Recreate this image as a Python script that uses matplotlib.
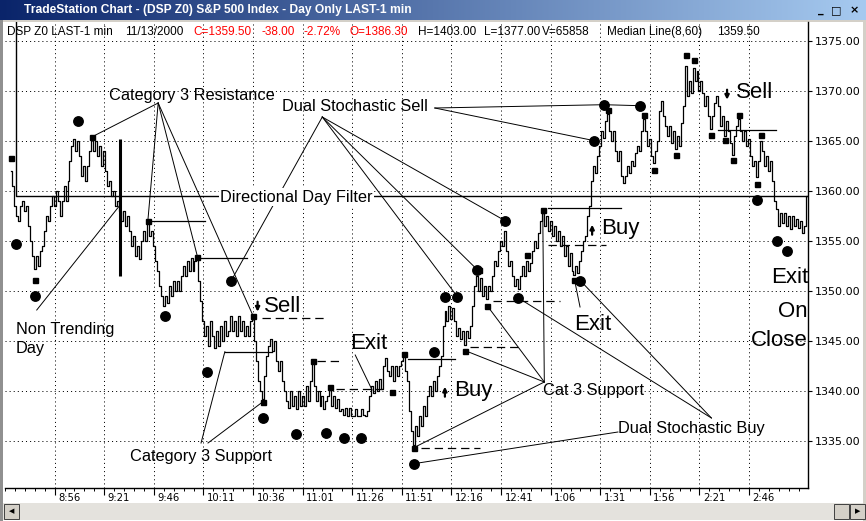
import numpy as np
import matplotlib
matplotlib.use("Agg")
import matplotlib.pyplot as plt
from matplotlib.patches import Rectangle
from matplotlib import transforms

plt.rcParams['lines.scale_dashes'] = False

# ---------------- data ----------------
first_minute = 4          # minutes after 8:30 of first plotted bar
closes = [
    1362.0, 1360.5, 1358.5, 1357.5, 1357.0, 1358.5, 1359.0, 1358.0, 1358.5, 1356.5,
    1355.0, 1353.5, 1352.2, 1353.5, 1352.5, 1354.0, 1354.5, 1356.0, 1357.5, 1357.0,
    1358.5, 1359.5, 1358.5, 1360.0, 1359.0, 1357.5, 1359.0, 1360.5, 1359.0, 1361.0,
    1363.0, 1364.5, 1365.2, 1364.0, 1365.0, 1363.5, 1361.5, 1362.5, 1361.0, 1362.5,
    1364.0, 1365.3, 1364.0, 1365.0, 1363.5, 1364.5, 1362.5, 1364.0, 1362.0, 1360.5,
    1361.0, 1359.5, 1360.0, 1358.5, 1359.0, 1358.0, 1357.0, 1358.0, 1356.5, 1357.5,
    1356.0, 1354.5, 1355.5, 1353.5, 1354.5, 1353.2, 1355.0, 1356.0, 1355.0, 1356.8,
    1355.5, 1356.0, 1354.5, 1353.0, 1352.0, 1350.5, 1349.5, 1348.5, 1349.5, 1348.8,
    1350.5, 1349.5, 1351.0, 1350.0, 1351.0, 1350.0, 1351.5, 1352.5, 1351.5, 1353.0,
    1352.0, 1353.3, 1352.0, 1353.0, 1353.4, 1351.0, 1349.0, 1347.0, 1345.5, 1346.5,
    1344.5, 1347.0, 1345.5, 1344.3, 1346.0, 1344.5, 1346.5, 1345.0, 1347.0, 1345.5,
    1346.0, 1347.5, 1346.0, 1347.0, 1345.5, 1347.5, 1346.0, 1347.0, 1345.5, 1346.5,
    1345.5, 1347.0, 1347.4, 1345.0, 1343.0, 1341.0, 1340.0, 1339.2, 1341.5, 1343.5,
    1344.5, 1345.2, 1344.0, 1345.0, 1343.0, 1342.0, 1343.0, 1341.0, 1340.0, 1339.0,
    1338.3, 1340.0, 1338.5, 1339.5, 1338.2, 1340.0, 1338.5, 1339.5, 1338.5, 1340.5,
    1339.0, 1341.0, 1343.0, 1340.5, 1339.0, 1340.0, 1338.5, 1339.5, 1338.2, 1339.0,
    1339.5, 1340.3, 1338.5, 1339.5, 1338.3, 1339.2, 1338.0, 1338.2, 1337.6, 1338.3,
    1337.5, 1338.3, 1337.5, 1337.5, 1338.2, 1337.5, 1337.5, 1338.2, 1337.6, 1337.5,
    1338.0, 1339.5, 1340.5, 1339.8, 1341.0, 1340.0, 1341.2, 1340.2, 1342.5, 1343.3,
    1342.0, 1341.5, 1342.5, 1341.0, 1342.5, 1341.5, 1342.5, 1343.0, 1343.5, 1342.0,
    1341.0, 1338.0, 1336.0, 1334.6, 1336.5, 1335.5, 1337.5, 1336.5, 1338.5, 1337.5,
    1339.5, 1340.5, 1339.5, 1341.0, 1340.0, 1341.5, 1342.5, 1343.5, 1346.5, 1348.0,
    1347.0, 1348.5, 1347.2, 1348.3, 1347.0, 1345.5, 1346.3, 1345.2, 1346.0, 1344.6,
    1346.0, 1345.3, 1346.5, 1348.5, 1350.5, 1351.5, 1350.0, 1351.3, 1349.5, 1350.5,
    1349.2, 1350.5, 1350.0, 1351.5, 1353.0, 1352.5, 1354.0, 1355.0, 1354.5, 1356.0,
    1354.0, 1352.5, 1353.0, 1351.5, 1350.5, 1351.2, 1350.2, 1351.5, 1352.5, 1351.5,
    1353.0, 1352.0, 1352.8, 1354.0, 1355.0, 1354.3, 1355.8, 1357.0, 1357.8, 1356.5,
    1357.5, 1356.0, 1357.0, 1355.5, 1356.5, 1355.0, 1356.0, 1354.5, 1355.5, 1353.5,
    1354.5, 1352.5, 1353.8, 1352.0, 1351.6, 1352.5, 1351.8, 1353.0, 1354.0, 1355.0,
    1355.5, 1357.5, 1358.5, 1361.0, 1362.5, 1361.8, 1363.5, 1364.5, 1366.0, 1365.3,
    1367.0, 1367.7, 1366.0, 1365.0, 1366.0, 1364.0, 1363.0, 1364.0, 1361.5, 1360.8,
    1361.5, 1362.5, 1361.8, 1363.0, 1362.5, 1363.8, 1364.5, 1364.0, 1366.0, 1367.2,
    1366.0, 1364.5, 1365.2, 1363.5, 1362.8, 1364.0, 1365.0, 1368.0, 1369.0, 1367.5,
    1366.5, 1365.5, 1366.5, 1364.8, 1366.0, 1364.2, 1365.5, 1364.5, 1366.8, 1368.5,
    1372.5, 1369.5, 1371.0, 1369.8, 1372.3, 1371.0, 1372.0, 1370.0, 1371.0, 1369.8,
    1368.5, 1369.5, 1367.5, 1366.2, 1367.5, 1368.8, 1369.5, 1368.5, 1366.5, 1367.5,
    1365.5, 1367.0, 1366.0, 1364.8, 1363.6, 1365.5, 1366.5, 1367.2, 1366.0, 1365.0,
    1366.0, 1364.5, 1365.2, 1363.5, 1362.5, 1363.0, 1361.4, 1363.0, 1365.0, 1364.0,
    1362.5, 1363.5, 1362.0, 1363.0, 1361.0, 1359.0, 1358.2, 1356.5, 1357.8, 1356.8,
    1357.8, 1356.5, 1357.5, 1356.2, 1357.5, 1356.5, 1357.2, 1356.3, 1357.0, 1355.8,
    1356.5, 1359.5,
]

time_labels = ['8:56', '9:21', '9:46', '10:11', '10:36', '11:01', '11:26', '11:51',
               '12:16', '12:41', '1:06', '1:31', '1:56', '2:21', '2:46']
price_ticks = [1335, 1340, 1345, 1350, 1355, 1360, 1365, 1370, 1375]

median_minutes = [6.5, 6.5, 405]
median_values = [1386.3, 1359.5, 1359.5]

nontrend_minute = 59
nontrend_range = [1351.5, 1365.2]

square_minutes = [3.8, 16, 45, 73, 98, 126, 131, 156, 165, 196, 202, 207, 233, 240, 244,
                  264, 272, 288, 305, 323, 328, 339, 344, 348, 357, 364, 368, 371, 380, 382]
square_prices = [1363.3, 1351.1, 1365.4, 1357.0, 1353.4, 1347.5, 1338.9, 1343.0, 1340.4,
                 1339.9, 1343.7, 1334.3, 1344.0, 1352.1, 1348.5, 1353.6, 1358.1, 1351.1,
                 1368.1, 1367.6, 1362.1, 1363.6, 1373.6, 1373.1, 1365.6, 1365.1, 1363.1,
                 1367.6, 1360.7, 1365.6]

dot_minutes = [6.5, 16, 38, 81.5, 103, 115, 131, 147.5, 163, 172, 180.5, 207, 217, 222.5,
               229, 239, 253, 259.5, 291, 298, 303, 321, 380, 390, 395]
dot_prices = [1354.7, 1349.5, 1367.0, 1347.5, 1341.9, 1351.0, 1337.3, 1335.7, 1335.8,
              1335.3, 1335.3, 1332.7, 1343.9, 1349.4, 1349.4, 1352.1, 1357.0, 1349.3,
              1351.0, 1365.0, 1368.6, 1368.5, 1359.1, 1355.0, 1354.0]

solid_start = [75, 100, 111.8, 204, 274.5, 360.5]
solid_end = [102, 123, 135.5, 228, 311.5, 389.5]
solid_price = [1357.0, 1353.3, 1343.9, 1343.2, 1358.3, 1366.1]

dashed_start = [130.5, 158, 168, 210.5, 235.5, 247, 274.5]
dashed_end = [163.5, 170.5, 191.5, 240.5, 259.5, 280.5, 304]
dashed_price = [1347.3, 1343.0, 1340.2, 1334.3, 1344.4, 1349.0, 1354.6]

header_text = ['DSP Z0 LAST-1 min', '11/13/2000', 'C=1359.50', '-38.00', '-2.72%',
               'O=1386.30', 'H=1403.00', 'L=1377.00', 'V=65858', 'Median Line(8,60)',
               '1359.50']
header_color = ['black', 'black', 'red', 'red', 'red', 'red', 'black', 'black', 'black',
                'black', 'black']

# ---------------- figure ----------------
W, H = 866, 521
fig = plt.figure(figsize=(W / 100, H / 100), dpi=100)
fig.patch.set_facecolor('white')
renderer = fig.canvas.get_renderer()

SANS = ['Liberation Sans', 'DejaVu Sans']
UI = ['DejaVu Sans']


def fit_fig_text(x0, x1, ycen, txt, color='black', base=8.0, **kw):
    """figure text placed in pixel coords, font size scaled to span x0..x1"""
    t = fig.text(x0 / W, 1 - ycen / H, txt, color=color, fontsize=base, ha='left',
                 va='center', **kw)
    w = t.get_window_extent(renderer).width
    t.set_fontsize(base * (x1 - x0) / w)
    return t


# chrome overlay in pixel coordinates
ov = fig.add_axes([0, 0, 1, 1], zorder=-5)
ov.set_xlim(0, W)
ov.set_ylim(H, 0)
ov.axis('off')

# title bar gradient
grad_ax = fig.add_axes([0, 1 - 20 / H, 1, 20 / H], zorder=-4)
c0 = np.array([0x0A, 0x24, 0x6A]) / 255.0
c1 = np.array([0xA6, 0xCA, 0xF0]) / 255.0
t = np.linspace(0, 1, 400)[None, :, None]
grad = c0 + (c1 - c0) * t
grad_ax.imshow(grad, aspect='auto', extent=[0, 1, 0, 1])
grad_ax.axis('off')
fit_fig_text(24, 410, 10.5, 'TradeStation Chart - (DSP Z0) S&P 500 Index - Day Only LAST-1 min',
             color='white', base=8.5, fontweight='bold', family=['Liberation Sans', 'DejaVu Sans'])
# icon
ov.add_patch(Rectangle((3, 3), 14, 14, facecolor='#c8c8c8', edgecolor='#404040', lw=0.6, zorder=2))
ov.add_patch(Rectangle((6, 6), 8, 8, facecolor='white', edgecolor='#0A246A', lw=0.6, zorder=3))
# title-bar separation
ov.add_patch(Rectangle((0, 20), W, 2, facecolor='#d4d0c8', edgecolor='none'))
# window buttons
for bx, glyph in [(813, '_'), (829, '□'), (847, '×')]:
    ov.add_patch(Rectangle((bx, 3), 15, 14, facecolor='#d4d0c8', edgecolor='#404040', lw=0.7, zorder=2))
    fig.text((bx + 7.5) / W, 1 - 10 / H, glyph, fontsize=8, fontweight='bold', ha='center',
             va='center', family=UI, color='black')
# left & right borders
ov.add_patch(Rectangle((0, 20), 3, H - 20, facecolor='#909090', edgecolor='none'))
ov.add_patch(Rectangle((863, 20), 3, H - 20, facecolor='#d4d0c8', edgecolor='none'))
# scrollbar
ov.add_patch(Rectangle((3, 503), 860, 17, facecolor='#e4e2dd', edgecolor='none'))
for bx in (4, 834, 850):
    ov.add_patch(Rectangle((bx, 504), 15, 15, facecolor='#d4d0c8', edgecolor='#404040', lw=0.7, zorder=2))
fig.text(11.5 / W, 1 - 511.5 / H, '◀', fontsize=5, ha='center', va='center', family=UI)
fig.text(857.5 / W, 1 - 511.5 / H, '▶', fontsize=5, ha='center', va='center', family=UI)

# ---------------- main chart ----------------
ax = fig.add_axes([5 / W, 1 - 488 / H, 803 / W, 466 / H])
ax.set_facecolor('white')


def x_to_min(px):
    return 26 + (px - 50.9) / 1.994


ax.set_xlim(x_to_min(5), x_to_min(808))
ax.set_ylim(1330.27, 1376.87)

minutes = np.arange(first_minute, first_minute + len(closes))
ax.step(minutes, closes, where='mid', color='black', lw=0.9, zorder=4)

ax.plot(median_minutes, median_values, color='black', lw=1.0, zorder=3)
ax.vlines(nontrend_minute, nontrend_range[0], nontrend_range[1], color='black', lw=2.2, zorder=4)

for s, e, p in zip(solid_start, solid_end, solid_price):
    ax.plot([s, e], [p, p], color='black', lw=0.9, zorder=3)
for s, e, p in zip(dashed_start, dashed_end, dashed_price):
    ax.plot([s, e], [p, p], color='black', lw=0.9, linestyle=(0, (6, 3.5)), zorder=3)

squares = dict(zip(square_minutes, square_prices))
dots = dict(zip(dot_minutes, dot_prices))


def connect(anchor, target, lw=0.7):
    ax.plot([anchor[0], target[0]], [anchor[1], target[1]], color='black', lw=lw, zorder=3)


# connector lines: text anchors -> marks
a = (78.2, 1368.77)
for m in (45, 73, 98, 126):
    connect(a, (m, squares[m]))
a = (160.9, 1367.37)
for m in (115, 229, 239, 253):
    connect(a, (m, dots[m]))
a = (x_to_min(433), 1368.27)
for m in (303, 298):
    connect(a, (m, dots[m]))
connect((303, dots[303]), (321, dots[321]))
connect((17.0, 1348.07), (nontrend_minute, 1358.57))
connect((177.5, 1343.57), (186.0, 1340.07))
connect((290.8, 1348.37), (288, squares[288]))
a = (272.8, 1340.87)
for m in (207, 233, 244, 272):
    connect(a, (m, squares[m]))
connect((309.9, 1335.87), (207, dots[207]))
for m in (259.5, 291):
    connect((357.0, 1337.27), (m, dots[m]))
connect((99.8, 1334.77), (solid_start[2], solid_price[2]))
connect((103.3, 1334.77), (131, squares[131]))

ax.plot(square_minutes, square_prices, linestyle='none', marker='s', ms=3.6,
        color='black', zorder=5, clip_on=True)
ax.plot(dot_minutes, dot_prices, linestyle='none', marker='o', ms=6.8,
        color='black', zorder=5)

# annotation texts
small = 11.8
big = 16


def label(txt, m, p, size, ha='left', bbox=None, **kw):
    ax.text(m, p, txt, fontsize=size, family=SANS, ha=ha, va='baseline', zorder=6,
            bbox=bbox, **kw)


label('Category 3 Resistance', 53.6, 1369.07, small)
label('Dual Stochastic Sell', 140.4, 1367.97, small)
label('Directional Day Filter', 109.3, 1358.9, small,
      bbox=dict(facecolor='white', edgecolor='none', pad=1.0))
label('Non Trending', 6.4, 1345.67, small)
label('Day', 6.4, 1343.77, small)
label('Sell', 131.7, 1347.9, big)
label('Exit', 175.0, 1344.17, big)
label('Buy', 227.5, 1339.42, big)
label('Buy', 301.3, 1355.64, big)
label('Exit', 287.7, 1346.07, big)
label('Sell', 369.6, 1369.24, big)
label('Exit', x_to_min(808), 1350.74, big, ha='right')
label('On', x_to_min(808), 1347.34, big, ha='right')
label('Close', x_to_min(808), 1344.47, big, ha='right')
label('Cat 3 Support', 272.3, 1339.57, small)
label('Dual Stochastic Buy', 310.0, 1335.74, small)
label('Category 3 Support', 64.2, 1332.97, small)

# small bold arrows next to Buy / Sell  (minute, tail price, head price)
for m, p_tail, p_head in [(128.3, 1348.9, 1347.9), (222.7, 1339.4, 1340.4),
                          (296.9, 1355.6, 1356.6), (364.9, 1370.1, 1369.1)]:
    ax.annotate('', xy=(m, p_head), xytext=(m, p_tail),
                arrowprops=dict(arrowstyle='-|>', lw=1.6, color='black',
                                mutation_scale=6, shrinkA=0, shrinkB=0), zorder=6)

# axes styling
for side in ('top', 'left'):
    ax.spines[side].set_visible(False)
ax.spines['right'].set_linewidth(1.0)
ax.spines['bottom'].set_linewidth(1.0)

ax.yaxis.tick_right()
ax.set_yticks(price_ticks)
ax.set_yticklabels([f'{v:.2f}' for v in price_ticks])
ax.tick_params(axis='y', which='major', direction='out', length=3, width=0.8,
               labelsize=8, pad=2)
for lbl in ax.get_yticklabels():
    lbl.set_family(UI)


def label_minute(s):
    h, mm = map(int, s.split(':'))
    if h < 8:
        h += 12
    return (h - 8) * 60 + mm - 30


major_minutes = [label_minute(s) for s in time_labels]
ax.set_xticks(major_minutes)
ax.set_xticklabels(time_labels)
ax.set_xticks(np.arange(1, 405, 5), minor=True)
ax.tick_params(axis='x', which='major', direction='out', length=5, width=0.8,
               labelsize=7.2, pad=-1.5)
ax.tick_params(axis='x', which='minor', direction='out', length=2, width=0.7)
offset = transforms.ScaledTranslation(2.5 / 72, 0, fig.dpi_scale_trans)
for lbl in ax.get_xticklabels():
    lbl.set_ha('left')
    lbl.set_family(UI)
    lbl.set_transform(lbl.get_transform() + offset)

ax.grid(True, which='major', axis='both', color='black', lw=0.7,
        linestyle=(0, (0.75, 2.2)), zorder=0)
ax.set_axisbelow(True)

# header row: one common font size, segments at their left pixel positions
header_left = [7, 125, 193, 262, 303, 350, 418, 484, 542, 607, 717]
hdr0 = fit_fig_text(header_left[0], 113, 32, header_text[0], color=header_color[0],
                    base=8, family=SANS)
hsize = hdr0.get_fontsize()
for x0, txt, col in zip(header_left[1:], header_text[1:], header_color[1:]):
    fig.text(x0 / W, 1 - 32 / H, txt, color=col, fontsize=hsize, family=SANS,
             ha='left', va='center')

fig.savefig('out.png', dpi=100, facecolor='white')
